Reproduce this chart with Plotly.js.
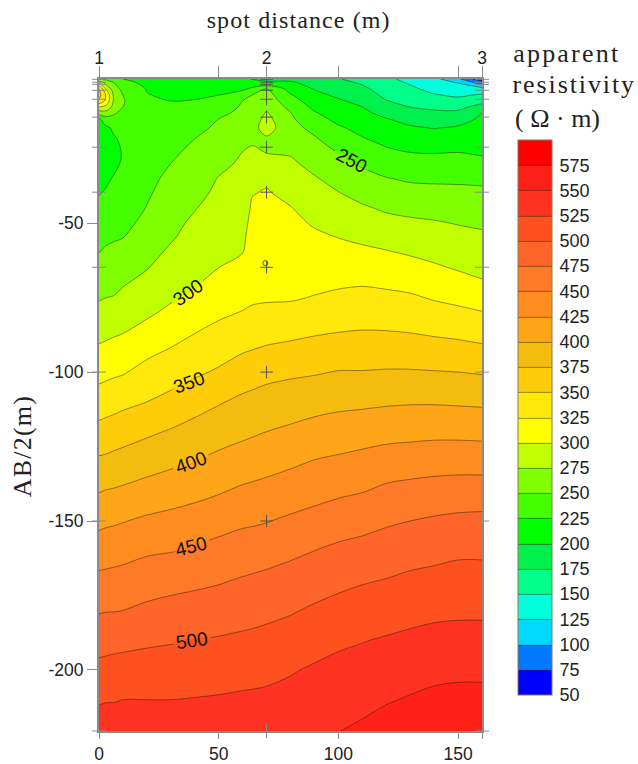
<!DOCTYPE html>
<html><head><meta charset="utf-8">
<script src="https://cdn.plot.ly/plotly-3.0.1.min.js"></script>
<style>
html,body{margin:0;padding:0;background:#fff}
.annotation[data-index="6"] text{letter-spacing:1.1px}
.annotation[data-index="7"] text{letter-spacing:1.2px}
.annotation[data-index="8"] text{letter-spacing:2.2px}
.annotation[data-index="9"] text{letter-spacing:1.9px}
</style></head><body><div id="chart" style="width:638px;height:764px"></div>
<script>
const spotDistance=[0,3,6,10,20,30,40,50,60,64,70,80,90,100,110,120,130,140,150,160];
const halfAB=[-1.6,-3,-5,-7,-9,-11,-13,-15,-18,-21,-24,-27,-30,-35,-40,-45,-50,-55,-60,-65,-70,-75,-80,-90,-100,-110,-120,-130,-140,-150,-160,-170,-180,-190,-200,-210,-221];
const c0=[245,305,352,360,345,300,260,222,212,207,205,204,205,213,224,231,237,244,250,256,265,273,282,299,317,337,358,379,399,419,438,456,473,490,507,523,535];
const c3=[245,265,298,322,318,293,265,240,221,214,211,210,211,222,227,234,241,247,253,260,267,275,283,301,319,339,360,380,401,421,439,457,474,491,508,524,535];
const c6=[240,252,265,274,274,268,255,240,228,224,221,220,221,226,231,237,243,248,256,263,268,276,285,303,321,341,362,382,402,422,440,458,474,492,509,524,535];
const c10=[225,233,243,250,252,250,240,233,229,228,227,226,227,228,231,236,244,250,258,265,273,280,288,305,323,344,365,384,404,424,442,459,475,493,510,525,535];
const c20=[216,220,224,226,227,228,230,231,233,235,237,239,241,244,247,251,256,262,268,274,281,289,296,314,333,350,371,390,409,429,447,463,480,496,511,525,535];
const c30=[212,215,218,221,225,227,230,232,236,240,243,247,250,255,260,264,269,273,279,285,291,297,305,322,339,357,377,395,414,432,449,467,483,498,512,525,536];
const c40=[212,215,219,222,226,230,234,238,244,249,253,256,258,264,268,274,279,283,288,293,298,304,313,330,346,365,384,400,418,436,453,470,485,500,513,526,537];
const c50=[208,213,219,225,231,237,244,250,254,258,262,266,270,276,280,284,288,292,296,300,306,313,321,336,353,373,390,406,423,441,458,473,487,502,515,527,537];
const c60=[205,215,222,235,250,253,256,259,264,268,273,276,278,282,285,289,293,296,300,306,313,319,326,343,362,380,395,411,429,446,462,477,491,504,516,529,539];
const c64=[199,214,229,250,253,256,259,262,267,271,275,280,284,292,299,303,306,309,313,316,320,323,327,345,364.4,382,397,413,430.6,447,463,478.6,492,505,517,529.4,539.4];
const c70=[194,205,253,260,265,271,277,282,285,274,270,276,283,296,302,305,308,311,314,317,320,323,329,348,368,385,400,416,433,449,465,481,494,507,519,530,540];
const c80=[195,204,216,227,235,243,251,254,259,264,269,274,279,286,294,301,305,308,312,315,319,323,331,351,371,388,404,421,437,454,470,485,498,510,523,533,545];
const c90=[186,192,199,206,213,220,227,233,243,251,257,262,268,277,284,291,298,304,309,315,320,326,335,354,373,391,409,426,442,458,475,490,503,515,528,539,549];
const c100=[176,182,189,196,203,208,214,219,228,236,244,251,257,267,276,285,293,300,307,314,322,329,338,356,376,394,412,429,446,463,480,494,508,520,533,543,550];
const c110=[168,173,180,186,193,200,205,210,218,225,233,240,247,258,268,278,287,296,305,314,323,331,340,357,376,395,415,432,449,467,483,498,512,524,534,543,555];
const c120=[155,159,165,170,176,185,193,201,209,216,224,231,238,251,261,272,282,292,302,311,321,330,339,357,377,397,417,436,455,472,486,501,514,527,537,548,561];
const c130=[143,148,155,161,168,175,183,192,203,211,219,227,234,247,258,269,279,288,298,308,318,328,337,356,377,398,418,438,458,475,490,505,517,530,540,552,565];
const c140=[132,137,143,152,161,171,179,187,199,208,218,226,233,246,257,267,277,286,294,303,313,323,333,354,376,398,419,440,460,478,493,507,520,532,543,556,568];
const c150=[105,125,136,146,158,169,180,190,203,211,219,227,234,246,256,265,274,282,290,298,308,319,330,352,375,397,419,440,462,480,496,509,521,533,545,557,570];
const c160=[55,92,136,153,168,184,201,204,209,214,219,224,231,245,255,264,272,279,287,294,302,314,326,349,373,396,418,440,462,481,496,509,521,533,545,557,569];
const columns=[c0,c3,c6,c10,c20,c30,c40,c50,c60,c64,c70,c80,c90,c100,c110,c120,c130,c140,c150,c160];
const resistivity=halfAB.map((_,r)=>columns.map(c=>c[r]));

const bandColors=['#0000ff','#0078ff','#00d8ff','#00ffdc','#00ff88','#00f04c','#00ff00','#44ff00','#80ff00','#bfff00','#ffff00','#ffe80a','#ffcc0a','#f5bc10','#ffa518','#ff8c1e','#ff7a28','#ff6428','#ff5020','#ff3222','#ff2018','#ff0000'];
const colorTicks=[50,75,100,125,150,175,200,225,250,275,300,325,350,375,400,425,450,475,500,525,550,575];

const soundingY=[-1.7,-2.7,-3.4,-5.4,-8.4,-14.4,-24.5,-39.6,-64.8,-100,-150];
const sideY=[-1.7,-2.7,-3.4,-5.4,-8.4,-14.4,-24.5,-39.6,-64.8,-100,-150,-220.5];

const labelText=['250','300','350','400','450','500'];
const labelX=[105.6,37.2,37.6,38.4,38.4,38.8];
const labelY=[-28.9,-73.2,-103.4,-130.2,-158.4,-190];
const labelAngle=[28,-35,-20,-20,-14,-8];
const labelGap=['#62ff00','#dfff00','#ffda0a','#ffb018','#ff8424','#ff5a24'];

const SERIF='"Liberation Serif",serif', SANS='"Liberation Sans",Arial,sans-serif';
const AXIS='#8a8a8a', INK='#222';
const PXX=383/160, PXY=652/218.9;

const gapTraces=labelText.map((t,i)=>{
  const a=labelAngle[i]*Math.PI/180, dx=19*Math.cos(a)/PXX, dy=19*Math.sin(a)/PXY;
  return {type:'scatter',mode:'lines',xaxis:'x2',x:[labelX[i]-dx,labelX[i]+dx],y:[labelY[i]+dy,labelY[i]-dy],
    hoverinfo:'skip',showlegend:false,line:{color:labelGap[i],width:3}};
});

const traces=[
 {type:'contour',x:spotDistance,y:halfAB,z:resistivity,zmin:50,zmax:600,
  colorscale:bandColors.map((c,i)=>[i/(bandColors.length-1),c]),
  autocontour:false,contours:{start:75,end:575,size:25,coloring:'fill',showlines:true},
  line:{color:'rgba(30,30,0,0.6)',width:0.8,smoothing:1},
  colorbar:{thickness:34,thicknessmode:'pixels',len:555,lenmode:'pixels',
   x:(518-99)/383,xanchor:'left',xpad:0,y:1-(140-79)/652,yanchor:'top',ypad:0,
   tickmode:'array',tickvals:colorTicks,ticktext:colorTicks.map(String),
   ticks:'outside',ticklen:4,tickcolor:'rgba(0,0,0,0)',
   tickfont:{family:SANS,size:18,color:INK},outlinecolor:'#8a7a50',outlinewidth:1}},
 ...gapTraces,
 {type:'scatter',mode:'markers',xaxis:'x2',x:soundingY.map(()=>70),y:soundingY,cliponaxis:false,hoverinfo:'skip',showlegend:false,
  marker:{symbol:'cross-thin',size:9,line:{color:'#555',width:1}}},
 {type:'scatter',mode:'markers',xaxis:'x2',x:[69.5],y:[-63.4],cliponaxis:false,hoverinfo:'skip',showlegend:false,
  marker:{symbol:'circle-open',size:5,color:'#555',line:{color:'#555',width:1}}},
 {type:'scatter',mode:'markers',xaxis:'x2',x:sideY.map(()=>0),y:sideY,cliponaxis:false,hoverinfo:'skip',showlegend:false,
  marker:{symbol:'line-ew',size:10,line:{color:AXIS,width:1}}},
 {type:'scatter',mode:'markers',xaxis:'x2',x:sideY.map(()=>160),y:sideY,cliponaxis:false,hoverinfo:'skip',showlegend:false,
  marker:{symbol:'line-ew',size:10,line:{color:AXIS,width:1}}},
 {type:'scatter',mode:'markers',xaxis:'x2',x:[70],y:[-220.5],cliponaxis:false,hoverinfo:'skip',showlegend:false,
  marker:{symbol:'line-ns',size:10,line:{color:AXIS,width:1}}}
];

const annotations=labelText.map((t,i)=>({xref:'x',yref:'y',x:labelX[i],y:labelY[i],text:t,textangle:labelAngle[i],showarrow:false,
  font:{family:SANS,size:19,color:'#111'}}));
const note=(text,px,py,size,anchor,angle)=>({xref:'paper',yref:'paper',x:(px-99)/383,y:1-(py-79)/652,text,showarrow:false,
  xanchor:anchor,yanchor:'middle',textangle:angle||0,font:{family:SERIF,size,color:INK}});
annotations.push(note('spot distance (m)',298,20,24,'center'));
annotations.push(note('AB/2(m)',22,446,26,'center',-90));
annotations.push(note('apparent',520,54,26,'left'));
annotations.push(note('resistivity',521,85,26,'left'));
annotations.push(note('( Ω · m)',513,119,26,'left'));

const layout={width:638,height:764,margin:{l:99,r:156,t:79,b:33,pad:0},paper_bgcolor:'#fff',plot_bgcolor:'#fff',showlegend:false,
 font:{family:SANS,color:INK},
 xaxis:{range:[0,160],tickmode:'array',tickvals:[0,50,100,150,160],ticktext:['0','50','100','150',''],ticks:'outside',ticklen:6,tickcolor:AXIS,
  showline:true,linecolor:AXIS,linewidth:2,showgrid:false,zeroline:false,tickfont:{family:SANS,size:17.5,color:INK}},
 xaxis2:{overlaying:'x',side:'top',anchor:'y',range:[0,160],tickmode:'array',tickvals:[0,50,70,100,150,160],ticktext:['1','','2','','','3'],ticks:'outside',ticklen:11,tickcolor:AXIS,ticklabelstandoff:-5,
  showline:true,linecolor:AXIS,linewidth:2,showgrid:false,zeroline:false,tickfont:{family:SANS,size:17.5,color:INK}},
 yaxis:{range:[-220.5,-1.6],tickmode:'array',tickvals:[-50,-100,-150,-200],ticktext:['-50','-100','-150','-200'],ticks:'outside',ticklen:10,tickcolor:AXIS,
  showline:true,mirror:true,linecolor:AXIS,linewidth:2,showgrid:false,zeroline:false,tickfont:{family:SANS,size:17.5,color:INK}},
 annotations
};
Plotly.newPlot('chart',traces,layout,{displayModeBar:false,staticPlot:true});
</script></body></html>
